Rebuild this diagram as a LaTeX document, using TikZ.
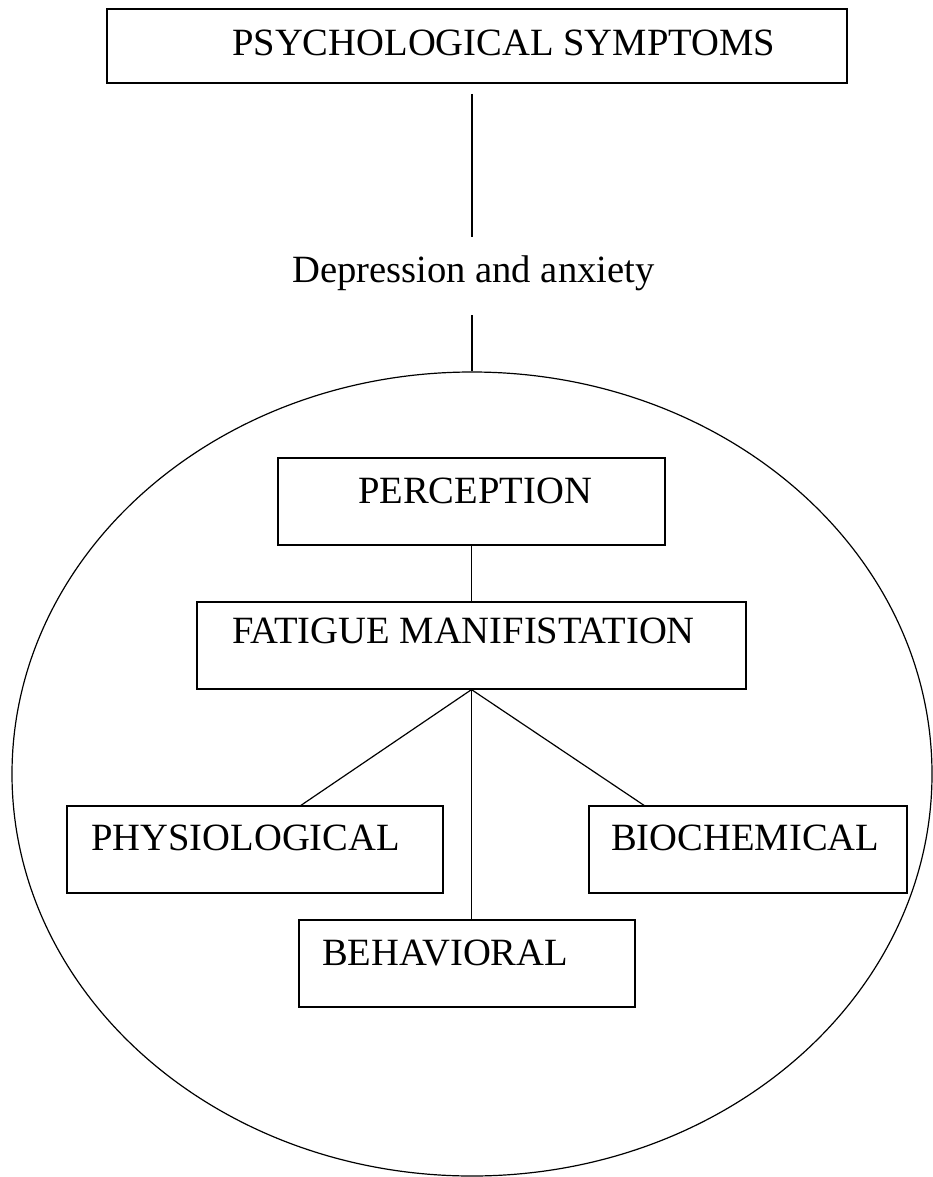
\documentclass[tikz,border=0pt]{standalone}
\usepackage{fontspec}
\setmainfont{Liberation Serif}
\usetikzlibrary{shapes.geometric}
\begin{document}
\begin{tikzpicture}[x=1pt,y=-1pt,
  box/.style={draw,line width=1.2pt,rectangle,inner sep=0pt},
  lbl/.style={anchor=base west,inner sep=0pt,font=\fontsize{38.6}{40}\selectfont},
  conn/.style={line width=1.2pt}]
\useasboundingbox (0,0) rectangle (932,1177);
% top box
\node[box,minimum width=740pt,minimum height=74pt] (top) at (477,46) {};
\node[lbl] (toptxt) at (232,56) {PSYCHOLOGICAL SYMPTOMS};
\coordinate (t1) at (472,94);
\coordinate (t2) at (472,237);
\node[lbl] (dep) at (292,282) {Depression and anxiety};
\coordinate (t3) at (472,315);
% ellipse
\node[draw,ellipse,line width=1.2pt,inner sep=0pt,minimum width=920pt,minimum height=804pt] (ell) at (472,774) {};
% inner boxes
\node[box,minimum width=387pt,minimum height=87pt] (perc) at (471.5,501.5) {};
\node[lbl] (perctxt) at (358,503) {PERCEPTION};
\node[box,minimum width=549pt,minimum height=87pt] (fat) at (471.5,645.5) {};
\node[lbl] (fattxt) at (232,643) {FATIGUE MANIFISTATION};
\node[box,minimum width=376pt,minimum height=87pt] (phys) at (255,849.5) {};
\node[lbl] (phystxt) at (91,850) {PHYSIOLOGICAL};
\node[box,minimum width=318pt,minimum height=87pt] (bio) at (748,849.5) {};
\node[lbl] (biotxt) at (611,850) {BIOCHEMICAL};
\node[box,minimum width=336pt,minimum height=87pt] (beh) at (467,963.5) {};
\node[lbl] (behtxt) at (322,965) {BEHAVIORAL};
\coordinate (pj) at (300,806);
\coordinate (bj) at (645,806);
% connectors
\draw[conn] (t1) -- (t2);
\draw[conn] (t3) -- (ell.north);
\draw[conn] (perc.south) -- (fat.north);
\draw[conn] (fat.south) -- (pj);
\draw[conn] (fat.south) -- (bj);
\draw[conn] (fat.south) -- (fat.south |- beh.north);
\end{tikzpicture}
\end{document}
